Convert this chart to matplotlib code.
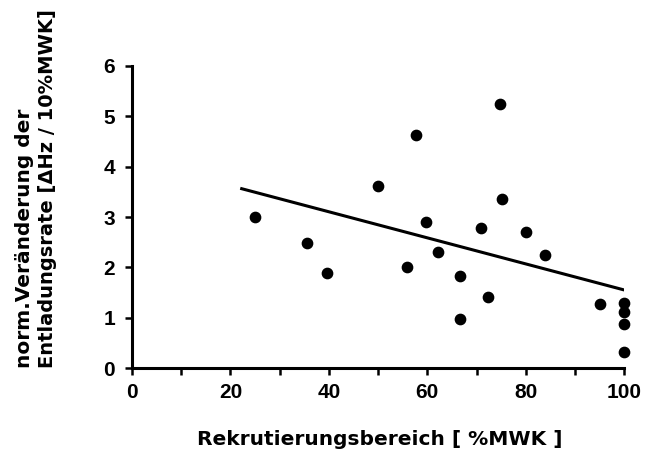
import numpy as np
import matplotlib.pyplot as plt
from matplotlib.ticker import MultipleLocator

# recruitment threshold [% MVC] and normalised change of discharge rate
rekrut = [25, 35.6, 39.7, 49.9, 57.6, 55.8, 59.8, 62.1, 66.7, 66.7, 70.9,
          72.4, 74.8, 75.1, 80.0, 83.9, 95.0, 100, 100, 100, 100]
rate = [3.0, 2.49, 1.88, 3.62, 4.63, 2.0, 2.90, 2.31, 1.83, 0.98, 2.78,
        1.42, 5.25, 3.36, 2.70, 2.24, 1.27, 1.29, 1.11, 0.88, 0.32]

# regression line end points
fit_x = [22, 100]
fit_y = [3.57, 1.55]

xticks = [0, 20, 40, 60, 80, 100]
yticks = [0, 1, 2, 3, 4, 5, 6]

plt.rcParams['font.family'] = ['Liberation Sans', 'DejaVu Sans']
plt.rcParams['font.weight'] = 'bold'

fig = plt.figure(figsize=(6.53, 4.58), dpi=100)
ax = fig.add_axes([0.202, 0.1965, 0.754, 0.6594])

ax.scatter(rekrut, rate, s=55, color='black', clip_on=False, zorder=3)
ax.plot(fit_x, fit_y, color='black', lw=2.2, solid_capstyle='butt')

ax.set_xlim(0, 100)
ax.set_ylim(0, 6)
ax.set_xticks(xticks)
ax.set_yticks(yticks)
ax.xaxis.set_minor_locator(MultipleLocator(10))

for s in ['top', 'right']:
    ax.spines[s].set_visible(False)
for s in ['left', 'bottom']:
    ax.spines[s].set_linewidth(2.2)

ax.tick_params(which='both', direction='out', length=5, width=1.8, color='black')
ax.tick_params(axis='x', labelsize=15, pad=6)
ax.tick_params(axis='y', labelsize=15, pad=7)
for lab in ax.get_xticklabels() + ax.get_yticklabels():
    lab.set_fontweight('bold')

lab_font = ['DejaVu Sans']
fig.text(0.582, 0.04, 'Rekrutierungsbereich [ %MWK ]', ha='center', va='center',
         fontsize=14.5, fontweight='bold', family=lab_font)
fig.text(0.038, 0.196, 'norm.Veränderung der', rotation=90, rotation_mode='anchor',
         ha='left', va='center', fontsize=14.5, fontweight='bold', family=lab_font)
fig.text(0.073, 0.196, 'Entladungsrate [ΔHz / 10%MWK]', rotation=90,
         rotation_mode='anchor', ha='left', va='center', fontsize=14,
         fontweight='bold', family=lab_font)

fig.savefig('out.png', dpi=100)
